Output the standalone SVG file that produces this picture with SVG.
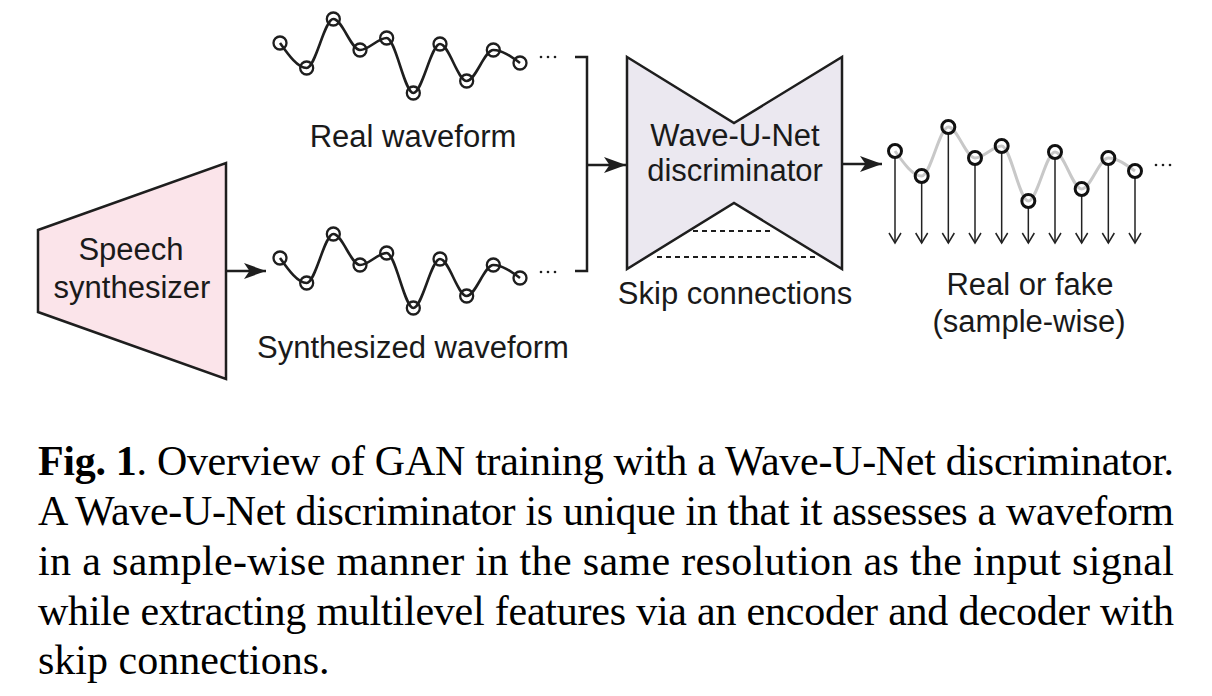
<svg xmlns="http://www.w3.org/2000/svg" width="1212" height="696" viewBox="0 0 1212 696">
  <style>
    .lbl { font-family: "Liberation Sans", Arial, Helvetica, sans-serif; font-size: 31px; fill: #1a1a1a; text-anchor: middle; }
    .cap { font-family: "Liberation Serif", "Times New Roman", serif; font-size: 42px; fill: #000; }
    .shape { stroke: #1e1e1e; stroke-width: 2.5; stroke-linejoin: miter; }
    .conn { stroke: #1e1e1e; stroke-width: 2.5; fill: none; }
    .dash { stroke: #1e1e1e; stroke-width: 1.8; stroke-dasharray: 5 4; fill: none; }
    .wave { fill: none; stroke: #1e1e1e; stroke-width: 2.6; }
    .waveg { fill: none; stroke: #c8c8c8; stroke-width: 3; }
    .pt { fill: none; stroke: #1e1e1e; stroke-width: 2.3; }
    .pto { fill: none; stroke: #111; stroke-width: 3; }
    .dot { fill: #1e1e1e; }
    .down { stroke: #222; stroke-width: 1.5; fill: none; }
  </style>
  <defs>
    <marker id="ah" markerUnits="userSpaceOnUse" markerWidth="26" markerHeight="20" refX="23" refY="9" orient="auto">
      <path d="M23,9 L1,1 L6.5,9 L1,17 Z" fill="#1e1e1e"/>
    </marker>
    <marker id="ahOpen" markerUnits="userSpaceOnUse" markerWidth="16" markerHeight="16" refX="11" refY="7" orient="auto">
      <path d="M1,1 L11,7 L1,13" fill="none" stroke="#222" stroke-width="1.5"/>
    </marker>
    <path id="wpath" d="M280,43 C288.89,55.5 297.78,68 306.67,68 C315.56,68 324.44,19 333.33,19 C342.22,19 351.11,50 360,50 C368.89,50 377.78,38 386.67,38 C395.56,38 404.44,93 413.33,93 C422.22,93 431.11,44 440,44 C448.89,44 457.78,81 466.67,81 C475.56,81 484.44,50 493.33,50 C502.22,50 511.11,56.5 520,63"/>
    <g id="wpts">
      <circle cx="280" cy="43" r="6.5"/>
      <circle cx="306.67" cy="68" r="6.5"/>
      <circle cx="333.33" cy="19" r="6.5"/>
      <circle cx="360" cy="50" r="6.5"/>
      <circle cx="386.67" cy="38" r="6.5"/>
      <circle cx="413.33" cy="93" r="6.5"/>
      <circle cx="440" cy="44" r="6.5"/>
      <circle cx="466.67" cy="81" r="6.5"/>
      <circle cx="493.33" cy="50" r="6.5"/>
      <circle cx="520" cy="63" r="6.5"/>
    </g>
    <g id="wdots">
      <circle cx="541" cy="57" r="1.3"/>
      <circle cx="548" cy="57" r="1.3"/>
      <circle cx="555" cy="57" r="1.3"/>
    </g>
  </defs>

  <g id="real-waveform">
    <use href="#wpath" class="wave"/>
    <use href="#wpts" class="pt"/>
    <use href="#wdots" class="dot"/>
    <text class="lbl" x="413" y="147">Real waveform</text>
  </g>

  <g id="synth-waveform">
    <g transform="translate(0,215)">
      <use href="#wpath" class="wave"/>
      <use href="#wpts" class="pt"/>
      <use href="#wdots" class="dot"/>
    </g>
    <text class="lbl" x="413" y="358">Synthesized waveform</text>
  </g>

  <g id="speech-synthesizer">
    <polygon class="shape" points="38,230 226,163 226,379 38,312" fill="#fbe4ea"/>
    <text class="lbl" x="131" y="260">Speech</text>
    <text class="lbl" x="132" y="298">synthesizer</text>
  </g>

  <g id="discriminator">
    <polygon class="shape" points="627,57 734,123 842,57 842,269 734,203 627,269" fill="#ebe8f0"/>
    <line class="dash" x1="693" y1="231" x2="773" y2="231"/>
    <line class="dash" x1="657" y1="257" x2="816" y2="257"/>
    <text class="lbl" x="735" y="146">Wave-U-Net</text>
    <text class="lbl" x="735" y="181">discriminator</text>
    <text class="lbl" x="735" y="304">Skip connections</text>
  </g>

  <g id="output-waveform">
    <g transform="translate(615,108)">
      <use href="#wpath" class="waveg"/>
      <g class="down">
        <line x1="280" y1="50" x2="280" y2="135" marker-end="url(#ahOpen)"/>
        <line x1="306.67" y1="75" x2="306.67" y2="135" marker-end="url(#ahOpen)"/>
        <line x1="333.33" y1="26" x2="333.33" y2="135" marker-end="url(#ahOpen)"/>
        <line x1="360" y1="57" x2="360" y2="135" marker-end="url(#ahOpen)"/>
        <line x1="386.67" y1="45" x2="386.67" y2="135" marker-end="url(#ahOpen)"/>
        <line x1="413.33" y1="100" x2="413.33" y2="135" marker-end="url(#ahOpen)"/>
        <line x1="440" y1="51" x2="440" y2="135" marker-end="url(#ahOpen)"/>
        <line x1="466.67" y1="88" x2="466.67" y2="135" marker-end="url(#ahOpen)"/>
        <line x1="493.33" y1="57" x2="493.33" y2="135" marker-end="url(#ahOpen)"/>
        <line x1="520" y1="70" x2="520" y2="135" marker-end="url(#ahOpen)"/>
      </g>
      <use href="#wpts" class="pto"/>
      <use href="#wdots" class="dot"/>
    </g>
    <text class="lbl" x="1030" y="295">Real or fake</text>
    <text class="lbl" x="1029" y="332">(sample-wise)</text>
  </g>

  <g id="connectors">
    <path class="conn" d="M575,57 H587 V271 H575"/>
    <line class="conn" x1="587" y1="165" x2="626" y2="165" marker-end="url(#ah)"/>
    <line class="conn" x1="227" y1="271" x2="266" y2="271" marker-end="url(#ah)"/>
    <line class="conn" x1="843" y1="164" x2="882" y2="164" marker-end="url(#ah)"/>
  </g>

  <g id="caption">
    <text class="cap" x="38" y="475" textLength="1136" lengthAdjust="spacing"><tspan font-weight="bold">Fig. 1</tspan>. Overview of GAN training with a Wave-U-Net discriminator.</text>
    <text class="cap" x="38" y="525" textLength="1136" lengthAdjust="spacing">A Wave-U-Net discriminator is unique in that it assesses a waveform</text>
    <text class="cap" x="38" y="575" textLength="1136" lengthAdjust="spacing">in a sample-wise manner in the same resolution as the input signal</text>
    <text class="cap" x="38" y="625" textLength="1136" lengthAdjust="spacing">while extracting multilevel features via an encoder and decoder with</text>
    <text class="cap" x="38" y="674">skip connections.</text>
  </g>
</svg>
